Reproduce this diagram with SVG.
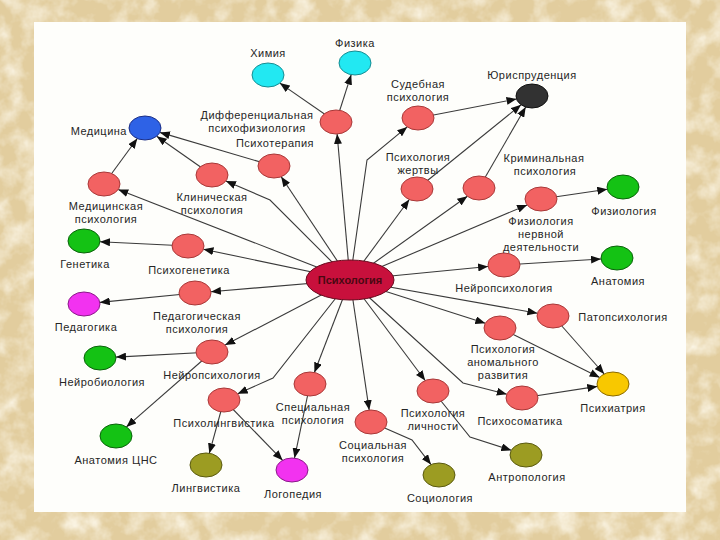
<svg xmlns="http://www.w3.org/2000/svg" width="720" height="540" viewBox="0 0 720 540">
<defs>
<filter id="tex" x="0" y="0" width="100%" height="100%">
<feTurbulence type="fractalNoise" baseFrequency="0.045" numOctaves="4" seed="7" result="n"/>
<feColorMatrix in="n" type="matrix" values="0 0 0 0 1  0 0 0 0 0.97  0 0 0 0 0.88  0 0 0 1.6 -0.62"/>
</filter>
<marker id="ah" markerUnits="userSpaceOnUse" markerWidth="10" markerHeight="8" refX="10" refY="4" orient="auto">
<path d="M0,0 L10,4 L0,8 z" fill="#111"/>
</marker>
<style>
.c{fill:none;stroke:#3a3a3a;stroke-width:1.1;marker-end:url(#ah)}
.n{stroke-width:1}
.red{fill:#F26262;stroke:#A83838}
.cyan{fill:#22E8F2;stroke:#178C92}
.blue{fill:#2E62E6;stroke:#1C2F86}
.green{fill:#14C214;stroke:#0B620B}
.mag{fill:#F232F0;stroke:#8A1A88}
.olive{fill:#9C9C22;stroke:#5A5A10}
.yel{fill:#F8C800;stroke:#8A6A00}
.blk{fill:#323232;stroke:#111}
text{font-family:"Liberation Sans",Arial,sans-serif;font-size:11px;letter-spacing:0.5px;fill:#262626;text-anchor:middle}
.e{text-anchor:end}
</style>
</defs>
<rect width="720" height="540" fill="#E2CD9E"/>
<rect width="720" height="540" filter="url(#tex)"/>
<rect x="34" y="22" width="652" height="490" fill="#FEFEFB"/>

<g id="connectors">
<path class="c" d="M350,280 L118.2,189.5"/>
<path class="c" d="M350,280 L270,200 L225.9,181"/>
<path class="c" d="M350,280 L281.2,176.7"/>
<path class="c" d="M350,280 L337.1,134"/>
<path class="c" d="M350,280 L367,160 L407.2,126.9"/>
<path class="c" d="M350,280 L409.3,199.5"/>
<path class="c" d="M350,280 L467.4,196.3"/>
<path class="c" d="M350,280 L527.1,204.9"/>
<path class="c" d="M350,280 L488.1,266.5"/>
<path class="c" d="M350,280 L537.4,313.2"/>
<path class="c" d="M350,280 L485.3,323.3"/>
<path class="c" d="M350,280 L463,383 L506.8,394.2"/>
<path class="c" d="M350,280 L425.2,380.5"/>
<path class="c" d="M350,280 L369.2,410.1"/>
<path class="c" d="M350,280 L314.4,372.5"/>
<path class="c" d="M350,280 L273,378 L237.7,393.8"/>
<path class="c" d="M350,280 L225.1,345.1"/>
<path class="c" d="M350,280 L210.9,291.7"/>
<path class="c" d="M350,280 L203.4,249.2"/>
<path class="c" d="M336,122 L279.8,83.1"/>
<path class="c" d="M336,122 L351.2,74.7"/>
<path class="c" d="M274,166 L159.9,132.4"/>
<path class="c" d="M212,175 L156.7,136.2"/>
<path class="c" d="M104,184 L137.3,138.5"/>
<path class="c" d="M188,246 L100,241.8"/>
<path class="c" d="M195,293 L99.8,302.4"/>
<path class="c" d="M212,352 L116,357.1"/>
<path class="c" d="M212,352 L126.4,426.9"/>
<path class="c" d="M224,400 L209.3,453.3"/>
<path class="c" d="M224,400 L282.6,460.3"/>
<path class="c" d="M310,384 L294.5,458.1"/>
<path class="c" d="M371,422 L412,440 L431,464.6"/>
<path class="c" d="M433,391 L470,437 L511.3,450.3"/>
<path class="c" d="M522,398 L597.3,386.4"/>
<path class="c" d="M500,328 L599.7,377.4"/>
<path class="c" d="M553,316 L604.2,374"/>
<path class="c" d="M504,265 L601,259"/>
<path class="c" d="M541,199 L607.3,189.3"/>
<path class="c" d="M418,118 L516.5,99"/>
<path class="c" d="M417,189 L521.1,104.8"/>
<path class="c" d="M479,188 L525.7,107"/>
</g>

<g id="n-psychology">
<ellipse cx="350" cy="280" rx="44" ry="20" fill="#C8103C" stroke="#6A0A1E" stroke-width="1"/>
<text x="350" y="284" style="font-size:11px;letter-spacing:0;font-weight:bold;fill:#4A0812">Психология</text>
</g>
<g id="n-himiya"><ellipse class="n cyan" cx="268" cy="75" rx="16" ry="12"/><text x="268" y="57">Химия</text></g>
<g id="n-fizika"><ellipse class="n cyan" cx="355" cy="63" rx="16" ry="12"/><text x="355" y="47">Физика</text></g>
<g id="n-medicina"><ellipse class="n blue" cx="145" cy="128" rx="16" ry="12"/><text class="e" x="127" y="135">Медицина</text></g>
<g id="n-diff"><ellipse class="n red" cx="336" cy="122" rx="16" ry="12"/><text x="257" y="119">Дифференциальная</text><text x="257" y="132">психофизиология</text></g>
<g id="n-psihoterapiya"><ellipse class="n red" cx="274" cy="166" rx="16" ry="12"/><text x="275" y="147">Психотерапия</text></g>
<g id="n-klin"><ellipse class="n red" cx="212" cy="175" rx="16" ry="12"/><text x="212" y="201">Клиническая</text><text x="212" y="214">психология</text></g>
<g id="n-medpsy"><ellipse class="n red" cx="104" cy="184" rx="16" ry="12"/><text x="106" y="210">Медицинская</text><text x="106" y="223">психология</text></g>
<g id="n-genetika"><ellipse class="n green" cx="84" cy="241" rx="16" ry="12"/><text x="85" y="268">Генетика</text></g>
<g id="n-psihogenetika"><ellipse class="n red" cx="188" cy="246" rx="16" ry="12"/><text x="189" y="274">Психогенетика</text></g>
<g id="n-pedagogika"><ellipse class="n mag" cx="84" cy="304" rx="16" ry="12"/><text x="86" y="331">Педагогика</text></g>
<g id="n-pedpsy"><ellipse class="n red" cx="195" cy="293" rx="16" ry="12"/><text x="197" y="320">Педагогическая</text><text x="197" y="333">психология</text></g>
<g id="n-neirobio"><ellipse class="n green" cx="100" cy="358" rx="16" ry="12"/><text x="102" y="386">Нейробиология</text></g>
<g id="n-neiropsy-l"><ellipse class="n red" cx="212" cy="352" rx="16" ry="12"/><text x="212" y="379">Нейропсихология</text></g>
<g id="n-anatcns"><ellipse class="n green" cx="116" cy="436" rx="16" ry="12"/><text x="116" y="464">Анатомия ЦНС</text></g>
<g id="n-psiholing"><ellipse class="n red" cx="224" cy="400" rx="16" ry="12"/><text x="224" y="427">Психолингвистика</text></g>
<g id="n-lingvistika"><ellipse class="n olive" cx="206" cy="465" rx="16" ry="12"/><text x="206" y="492">Лингвистика</text></g>
<g id="n-logopediya"><ellipse class="n mag" cx="292" cy="470" rx="16" ry="12"/><text x="293" y="498">Логопедия</text></g>
<g id="n-specpsy"><ellipse class="n red" cx="310" cy="384" rx="16" ry="12"/><text x="313" y="411">Специальная</text><text x="313" y="424">психология</text></g>
<g id="n-socpsy"><ellipse class="n red" cx="371" cy="422" rx="16" ry="12"/><text x="373" y="449">Социальная</text><text x="373" y="462">психология</text></g>
<g id="n-sociologiya"><ellipse class="n olive" cx="439" cy="475" rx="16" ry="12"/><text x="440" y="502">Социология</text></g>
<g id="n-lichnost"><ellipse class="n red" cx="433" cy="391" rx="16" ry="12"/><text x="433" y="417">Психология</text><text x="433" y="430">личности</text></g>
<g id="n-antropologiya"><ellipse class="n olive" cx="526" cy="455" rx="16" ry="12"/><text x="527" y="481">Антропология</text></g>
<g id="n-psihosomatika"><ellipse class="n red" cx="522" cy="398" rx="16" ry="12"/><text x="520" y="425">Психосоматика</text></g>
<g id="n-psihiatriya"><ellipse class="n yel" cx="613" cy="384" rx="16" ry="12"/><text x="613" y="412">Психиатрия</text></g>
<g id="n-anomal"><ellipse class="n red" cx="500" cy="328" rx="16" ry="12"/><text x="503" y="353">Психология</text><text x="503" y="366">аномального</text><text x="503" y="379">развития</text></g>
<g id="n-patopsy"><ellipse class="n red" cx="553" cy="316" rx="16" ry="12"/><text x="623" y="321">Патопсихология</text></g>
<g id="n-neiropsy-r"><ellipse class="n red" cx="504" cy="265" rx="16" ry="12"/><text x="504" y="292">Нейропсихология</text></g>
<g id="n-anatomiya"><ellipse class="n green" cx="617" cy="258" rx="16" ry="12"/><text x="618" y="285">Анатомия</text></g>
<g id="n-fiznd"><ellipse class="n red" cx="541" cy="199" rx="16" ry="12"/><text x="541" y="225">Физиология</text><text x="541" y="238">нервной</text><text x="541" y="251">деятельности</text></g>
<g id="n-fiziologiya"><ellipse class="n green" cx="623" cy="187" rx="16" ry="12"/><text x="624" y="215">Физиология</text></g>
<g id="n-krim"><ellipse class="n red" cx="479" cy="188" rx="16" ry="12"/><text x="544" y="162">Криминальная</text><text x="545" y="175">психология</text></g>
<g id="n-zhertvy"><ellipse class="n red" cx="417" cy="189" rx="16" ry="12"/><text x="418" y="161">Психология</text><text x="418" y="174">жертвы</text></g>
<g id="n-sudeb"><ellipse class="n red" cx="418" cy="118" rx="16" ry="12"/><text x="418" y="88">Судебная</text><text x="418" y="101">психология</text></g>
<g id="n-yuris"><ellipse class="n blk" cx="532" cy="96" rx="16" ry="12"/><text x="532" y="79">Юриспруденция</text></g>
</svg>
